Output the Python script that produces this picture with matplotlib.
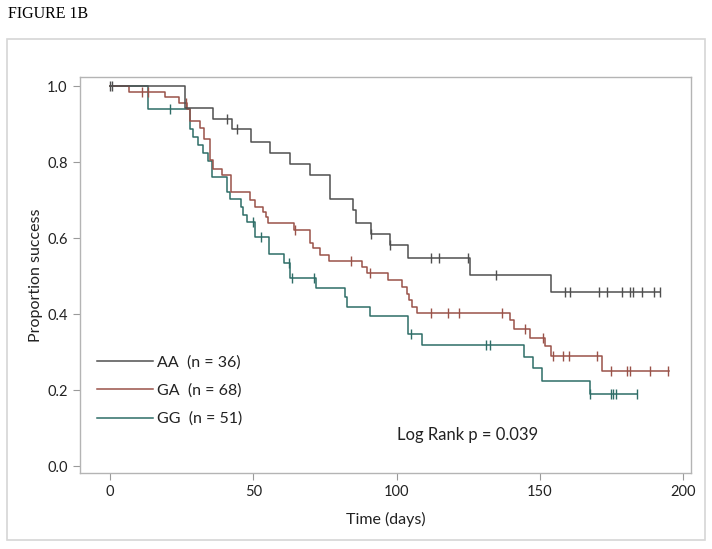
import numpy as np
import matplotlib
matplotlib.use('Agg')
import matplotlib.pyplot as plt
from matplotlib.patches import Rectangle

plt.rcParams['font.family'] = ['Lato', 'DejaVu Sans']

# AA group: event times, survival after each event, last follow-up, censored times
aa_t = [0, 26.2, 36.0, 42.4, 49.0, 55.8, 62.8, 69.8, 76.8, 84.8, 85.8, 91.0, 97.7, 104.1, 125.6, 153.9]
aa_s = [1.0, 0.943, 0.914, 0.888, 0.854, 0.825, 0.794, 0.765, 0.702, 0.674, 0.641, 0.612, 0.581, 0.547, 0.503, 0.457]
aa_end = 192
aa_cens = [0, 0.8, 40.7, 44.2, 91.0, 97.7, 111.9, 114.9, 124.8, 134.7, 158.8, 160.5, 170.6,
           173.3, 178.5, 181.4, 182.6, 185.5, 189.8, 191.9]

# GA group
ga_t = [0, 6.7, 19.2, 24.1, 27.0, 28.0, 31.2, 32.6, 34.7, 35.8, 38.9, 42.1, 48.8, 50.6, 53.5, 54.4,
        55.2, 64.0, 69.8, 70.9, 73.3, 76.5, 87.8, 89.6, 97.1, 101.8, 103.5, 104.4, 105.3, 107.0,
        139.6, 141.0, 146.5, 151.8, 153.9, 171.6]
ga_s = [1.0, 0.985, 0.971, 0.956, 0.941, 0.908, 0.890, 0.862, 0.805, 0.781, 0.766, 0.722, 0.700, 0.682,
        0.669, 0.656, 0.639, 0.621, 0.586, 0.573, 0.555, 0.540, 0.525, 0.508, 0.489, 0.472, 0.454,
        0.437, 0.419, 0.402, 0.384, 0.360, 0.336, 0.316, 0.289, 0.250]
ga_end = 195
ga_cens = [11.0, 13.1, 26.4, 64.5, 84.0, 90.7, 111.9, 118.0, 121.8, 136.7, 144.8, 151.2, 154.7,
           158.2, 160.3, 169.8, 174.8, 180.3, 181.4, 188.4, 194.8]

# GG group
gg_t = [0, 13.1, 27.9, 29.1, 30.8, 32.3, 34.0, 35.7, 40.7, 41.9, 45.7, 46.5, 47.7, 50.6, 55.6, 60.8,
        62.8, 71.8, 82.0, 82.8, 90.7, 104.1, 108.7, 144.5, 147.7, 150.6, 167.5]
gg_s = [1.0, 0.941, 0.886, 0.867, 0.845, 0.823, 0.804, 0.761, 0.722, 0.703, 0.681, 0.661, 0.643,
        0.602, 0.558, 0.535, 0.496, 0.468, 0.446, 0.419, 0.396, 0.349, 0.318, 0.288, 0.257, 0.224, 0.191]
gg_end = 184
gg_cens = [20.9, 50.0, 52.7, 62.6, 63.4, 71.2, 104.9, 131.2, 132.6, 167.5, 174.8, 175.6, 176.4, 183.8]

groups = [
    ('AA  (n = 36)', aa_t, aa_s, aa_end, aa_cens, '#4f4f4f'),
    ('GA  (n = 68)', ga_t, ga_s, ga_end, ga_cens, '#9a5249'),
    ('GG  (n = 51)', gg_t, gg_s, gg_end, gg_cens, '#2e6d67'),
]

fig = plt.figure(figsize=(7.12, 5.49), dpi=100)
W, H = 712, 549

# outer panel frame
fig.patches.append(Rectangle((7 / W, 1 - 540 / H), 698 / W, 501 / H, transform=fig.transFigure,
                             fill=False, edgecolor='#d6d6d6', linewidth=1.2))
fig.text(8 / W, 1 - 14 / H, 'FIGURE 1B', family='Liberation Serif', fontsize=11.5,
         va='center', ha='left')

ax = fig.add_axes([80 / W, 1 - 473 / H, 611 / W, 396 / H])

handles = []
for name, t, s, end, cens, col in groups[::-1]:
    tt = np.array(t + [end])
    ss = np.array(s + [s[-1]])
    ln, = ax.step(tt, ss, where='post', color=col, linewidth=1.1, label=name)
    handles.append(ln)
    idx = np.searchsorted(np.array(t), np.array(cens), side='right') - 1
    ax.plot(cens, np.array(s)[idx], linestyle='none', marker='|', markersize=7,
            markeredgewidth=1.0, color=col)
handles = handles[::-1]

ax.set_xlim(-10.5, 202.7)
ax.set_ylim(-0.018, 1.024)
ax.set_xticks([0, 50, 100, 150, 200])
ax.set_yticks([0.0, 0.2, 0.4, 0.6, 0.8, 1.0])
ax.set_yticklabels(['0.0', '0.2', '0.4', '0.6', '0.8', '1.0'])
ax.tick_params(direction='out', length=5, width=0.8, color='#9a9a9a', labelsize=10.5,
               labelcolor='#222222', pad=4)
for sp in ax.spines.values():
    sp.set_color('#b4b4b4')
    sp.set_linewidth(1.0)

ax.set_xlabel('Time (days)', fontsize=11.5, color='#222222', labelpad=9)
ax.set_ylabel('Proportion success', fontsize=11.5, color='#222222', labelpad=3)

leg = ax.legend(handles=handles, loc='lower left', bbox_to_anchor=(0.005, 0.082), frameon=False,
                fontsize=11.5, handlelength=3.5, handletextpad=0.25, labelspacing=0.88)
for txt in leg.get_texts():
    txt.set_color('#222222')

ax.text(124.6, 0.082, 'Log Rank p = 0.039', fontsize=12, ha='center', va='center', color='#222222')

fig.savefig('out.png', dpi=100)
